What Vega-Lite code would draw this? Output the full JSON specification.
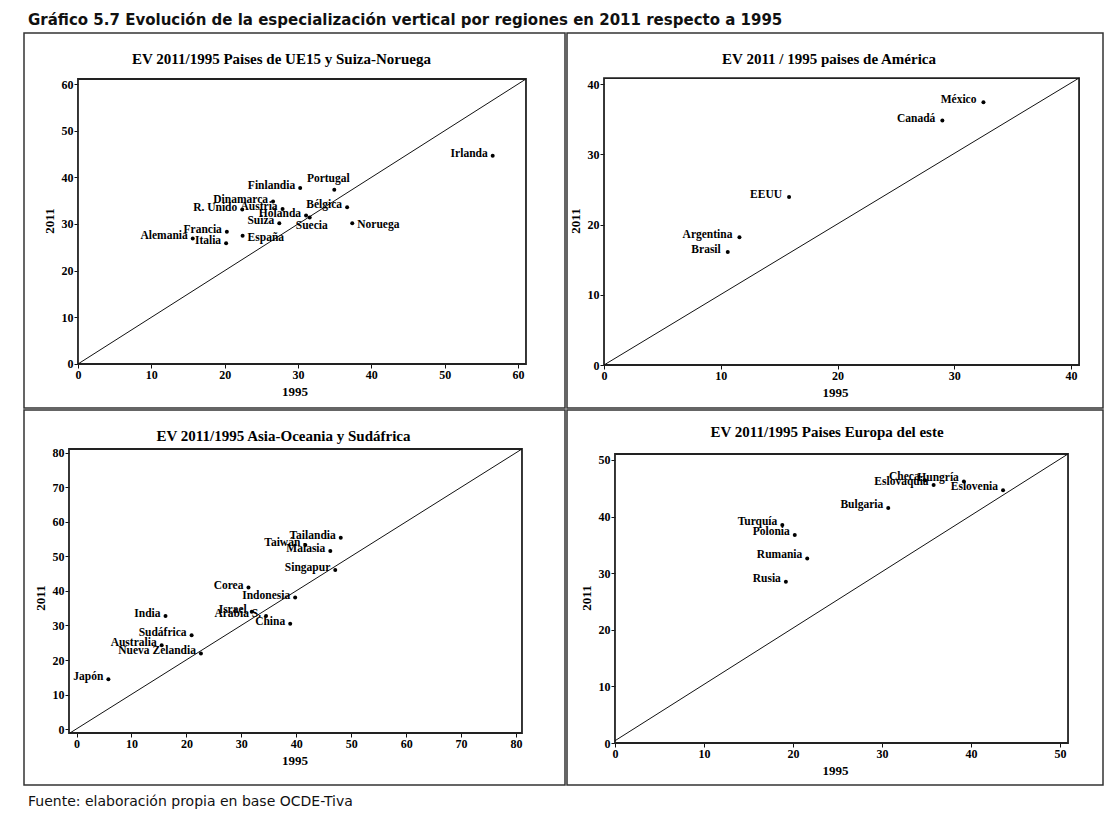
{
  "$schema": "https://vega.github.io/schema/vega-lite/v6.json",
  "background": "white",
  "padding": {"left": 23, "top": 13, "right": 6, "bottom": 0},
  "title": {"text": "Gráfico 5.7 Evolución de la especialización vertical por regiones en  2011 respecto a 1995", "anchor": "start", "frame": "group", "font": "DejaVu Sans", "fontSize": 15, "fontWeight": "bold", "color": "#111", "offset": 4, "dx": 4},
  "config": {
    "view": {"stroke": "#333", "strokeWidth": 1.5},
    "axis": {"domain": false, "grid": false, "ticks": true, "tickSize": 4, "tickColor": "#111", "labelFont": "Liberation Serif", "labelFontWeight": "bold", "labelFontSize": 12, "labelColor": "#000", "labelPadding": 1, "labelFlush": false, "labelOverlap": false, "titleFont": "Liberation Serif", "titleFontWeight": "bold", "titleFontSize": 13, "titleColor": "#000", "titlePadding": 5},
    "text": {"font": "Liberation Serif", "fontWeight": "bold", "fontSize": 11.5, "color": "#000", "baseline": "middle"},
    "circle": {"color": "#000", "opacity": 1, "size": 16}
  },
  "datasets": {
    "ue15": [
      {"pais": "Irlanda", "v1995": 56.55, "v2011": 44.6},
      {"pais": "Portugal", "v1995": 34.95, "v2011": 37.35},
      {"pais": "Finlandia", "v1995": 30.3, "v2011": 37.7},
      {"pais": "Dinamarca", "v1995": 26.6, "v2011": 34.8},
      {"pais": "Austria", "v1995": 27.9, "v2011": 33.2},
      {"pais": "R. Unido", "v1995": 22.4, "v2011": 33.1},
      {"pais": "Bélgica", "v1995": 36.7, "v2011": 33.6},
      {"pais": "Holanda", "v1995": 31.1, "v2011": 31.8},
      {"pais": "Suecia", "v1995": 31.6, "v2011": 31.4},
      {"pais": "Suiza", "v1995": 27.45, "v2011": 30.15},
      {"pais": "Noruega", "v1995": 37.4, "v2011": 30.15},
      {"pais": "Francia", "v1995": 20.3, "v2011": 28.35},
      {"pais": "España", "v1995": 22.45, "v2011": 27.5},
      {"pais": "Alemania", "v1995": 15.65, "v2011": 26.9},
      {"pais": "Italia", "v1995": 20.2, "v2011": 25.85}
    ],
    "america": [
      {"pais": "México", "v1995": 32.5, "v2011": 37.4},
      {"pais": "Canadá", "v1995": 28.98, "v2011": 34.8},
      {"pais": "EEUU", "v1995": 15.85, "v2011": 23.9},
      {"pais": "Argentina", "v1995": 11.6, "v2011": 18.2},
      {"pais": "Brasil", "v1995": 10.6, "v2011": 16.1}
    ],
    "asia": [
      {"pais": "Tailandia", "v1995": 48.1, "v2011": 55.4},
      {"pais": "Taiwán", "v1995": 41.65, "v2011": 53.3},
      {"pais": "Malasia", "v1995": 46.2, "v2011": 51.6},
      {"pais": "Singapur", "v1995": 47.1, "v2011": 46.1},
      {"pais": "Corea", "v1995": 31.3, "v2011": 41.0},
      {"pais": "Indonesia", "v1995": 39.8, "v2011": 38.1},
      {"pais": "Israel", "v1995": 31.9, "v2011": 34.0},
      {"pais": "Arabia S.", "v1995": 34.5, "v2011": 32.75},
      {"pais": "China", "v1995": 38.9, "v2011": 30.5},
      {"pais": "India", "v1995": 16.2, "v2011": 32.75},
      {"pais": "Sudáfrica", "v1995": 20.95, "v2011": 27.2},
      {"pais": "Australia", "v1995": 15.5, "v2011": 24.3},
      {"pais": "Nueva Zelandia", "v1995": 22.65, "v2011": 21.9},
      {"pais": "Japón", "v1995": 5.8, "v2011": 14.4}
    ],
    "este": [
      {"pais": "Checa", "v1995": 34.8, "v2011": 46.4},
      {"pais": "Hungría", "v1995": 39.2, "v2011": 46.2},
      {"pais": "Eslovaquia", "v1995": 35.8, "v2011": 45.6},
      {"pais": "Eslovenia", "v1995": 43.6, "v2011": 44.65},
      {"pais": "Bulgaria", "v1995": 30.7, "v2011": 41.5},
      {"pais": "Turquía", "v1995": 18.8, "v2011": 38.5},
      {"pais": "Polonia", "v1995": 20.2, "v2011": 36.75},
      {"pais": "Rumania", "v1995": 21.6, "v2011": 32.6},
      {"pais": "Rusia", "v1995": 19.2, "v2011": 28.5}
    ]
  },
  "spacing": 0,
  "vconcat": [
    {
      "spacing": 0,
      "hconcat": [
        {
          "width": 541, "height": 375,
          "title": {"text": "EV 2011/1995 Paises de UE15 y Suiza-Noruega", "offset": -34, "dx": -13, "anchor": "middle", "font": "Liberation Serif", "fontSize": 15, "fontWeight": "bold", "color": "#000"},
          "data": {"name": "ue15"},
          "layer": [
            {"data": {"values": [{}]}, "mark": {"type": "rect", "fill": null, "stroke": "#222", "strokeWidth": 1.8},
             "encoding": {
               "x": {"datum": 0, "type": "quantitative", "title": "1995", "scale": {"domain": [-7.36, 66.41], "nice": false, "zero": false}},
               "x2": {"datum": 61.09},
               "y": {"datum": 0, "type": "quantitative", "title": "2011", "scale": {"domain": [-9.43, 70.93], "nice": false, "zero": false}},
               "y2": {"datum": 61.07}}},
            {"data": {"values": [{}]}, "mark": {"type": "rule", "stroke": "#111", "strokeWidth": 1},
             "encoding": {
               "x": {"datum": 0, "type": "quantitative", "title": "1995", "scale": {"domain": [-7.36, 66.41], "nice": false, "zero": false}},
               "x2": {"datum": 61.09},
               "y": {"datum": 0, "type": "quantitative", "title": "2011", "scale": {"domain": [-9.43, 70.93], "nice": false, "zero": false}},
               "y2": {"datum": 61.07}}},
            {"mark": {"type": "circle"},
             "encoding": {
               "x": {"field": "v1995", "type": "quantitative", "title": "1995", "scale": {"domain": [-7.36, 66.41], "nice": false, "zero": false}, "axis": {"values": [0, 10, 20, 30, 40, 50, 60], "offset": -44}},
               "y": {"field": "v2011", "type": "quantitative", "title": "2011", "scale": {"domain": [-9.43, 70.93], "nice": false, "zero": false}, "axis": {"values": [0, 10, 20, 30, 40, 50, 60], "offset": -54}}}},
            {"transform": [{"filter": {"not": {"field": "pais", "oneOf": ["Portugal", "Suecia", "Noruega", "España"]}}}],
             "mark": {"type": "text", "align": "right", "dx": -5, "dy": -2},
             "encoding": {"x": {"field": "v1995", "type": "quantitative"}, "y": {"field": "v2011", "type": "quantitative"}, "text": {"field": "pais"}}},
            {"transform": [{"filter": {"field": "pais", "oneOf": ["Noruega", "España"]}}],
             "mark": {"type": "text", "align": "left", "dx": 5, "dy": 2},
             "encoding": {"x": {"field": "v1995", "type": "quantitative"}, "y": {"field": "v2011", "type": "quantitative"}, "text": {"field": "pais"}}},
            {"transform": [{"filter": {"field": "pais", "equal": "Portugal"}}],
             "mark": {"type": "text", "align": "center", "dx": -6, "dy": -11},
             "encoding": {"x": {"field": "v1995", "type": "quantitative"}, "y": {"field": "v2011", "type": "quantitative"}, "text": {"field": "pais"}}},
            {"transform": [{"filter": {"field": "pais", "equal": "Suecia"}}],
             "mark": {"type": "text", "align": "center", "dx": 2, "dy": 9},
             "encoding": {"x": {"field": "v1995", "type": "quantitative"}, "y": {"field": "v2011", "type": "quantitative"}, "text": {"field": "pais"}}}
          ]
        },
        {
          "width": 536, "height": 375,
          "title": {"text": "EV 2011 / 1995 paises de América", "offset": -34, "dx": -6, "anchor": "middle", "font": "Liberation Serif", "fontSize": 15, "fontWeight": "bold", "color": "#000"},
          "data": {"name": "america"},
          "layer": [
            {"data": {"values": [{}]}, "mark": {"type": "rect", "fill": null, "stroke": "#222", "strokeWidth": 1.8},
             "encoding": {
               "x": {"datum": 0, "type": "quantitative", "title": "1995", "scale": {"domain": [-3.17, 42.74], "nice": false, "zero": false}},
               "x2": {"datum": 40.69},
               "y": {"datum": 0, "type": "quantitative", "title": "2011", "scale": {"domain": [-6.12, 47.26], "nice": false, "zero": false}},
               "y2": {"datum": 40.85}}},
            {"data": {"values": [{}]}, "mark": {"type": "rule", "stroke": "#111", "strokeWidth": 1},
             "encoding": {
               "x": {"datum": 0, "type": "quantitative", "title": "1995", "scale": {"domain": [-3.17, 42.74], "nice": false, "zero": false}},
               "x2": {"datum": 40.69},
               "y": {"datum": 0, "type": "quantitative", "title": "2011", "scale": {"domain": [-6.12, 47.26], "nice": false, "zero": false}},
               "y2": {"datum": 40.85}}},
            {"mark": {"type": "circle"},
             "encoding": {
               "x": {"field": "v1995", "type": "quantitative", "title": "1995", "scale": {"domain": [-3.17, 42.74], "nice": false, "zero": false}, "axis": {"values": [0, 10, 20, 30, 40], "offset": -43}},
               "y": {"field": "v2011", "type": "quantitative", "title": "2011", "scale": {"domain": [-6.12, 47.26], "nice": false, "zero": false}, "axis": {"values": [0, 10, 20, 30, 40], "offset": -37}}}},
            {"mark": {"type": "text", "align": "right", "dx": -7, "dy": -2},
             "encoding": {"x": {"field": "v1995", "type": "quantitative"}, "y": {"field": "v2011", "type": "quantitative"}, "text": {"field": "pais"}}}
          ]
        }
      ]
    },
    {
      "spacing": 0,
      "title": {"text": "Fuente: elaboración propia en base OCDE-Tiva", "orient": "bottom", "anchor": "start", "frame": "group", "font": "DejaVu Sans", "fontSize": 14, "fontWeight": "normal", "color": "#111", "offset": 9, "dx": 4},
      "hconcat": [
        {
          "width": 541, "height": 375,
          "title": {"text": "EV 2011/1995 Asia-Oceania y Sudáfrica", "offset": -34, "dx": -11, "anchor": "middle", "font": "Liberation Serif", "fontSize": 15, "fontWeight": "bold", "color": "#000"},
          "data": {"name": "asia"},
          "layer": [
            {"data": {"values": [{}]}, "mark": {"type": "rect", "fill": null, "stroke": "#222", "strokeWidth": 1.8},
             "encoding": {
               "x": {"datum": -1.37, "type": "quantitative", "title": "1995", "scale": {"domain": [-9.56, 88.92], "nice": false, "zero": false}},
               "x2": {"datum": 81.09},
               "y": {"datum": -1.16, "type": "quantitative", "title": "2011", "scale": {"domain": [-16.23, 92.46], "nice": false, "zero": false}},
               "y2": {"datum": 81.16}}},
            {"data": {"values": [{}]}, "mark": {"type": "rule", "stroke": "#111", "strokeWidth": 1},
             "encoding": {
               "x": {"datum": -1.2, "type": "quantitative", "title": "1995", "scale": {"domain": [-9.56, 88.92], "nice": false, "zero": false}},
               "x2": {"datum": 81.09},
               "y": {"datum": -1.16, "type": "quantitative", "title": "2011", "scale": {"domain": [-16.23, 92.46], "nice": false, "zero": false}},
               "y2": {"datum": 81.16}}},
            {"mark": {"type": "circle"},
             "encoding": {
               "x": {"field": "v1995", "type": "quantitative", "title": "1995", "scale": {"domain": [-9.56, 88.92], "nice": false, "zero": false}, "axis": {"values": [0, 10, 20, 30, 40, 50, 60, 70, 80], "offset": -52}},
               "y": {"field": "v2011", "type": "quantitative", "title": "2011", "scale": {"domain": [-16.23, 92.46], "nice": false, "zero": false}, "axis": {"values": [0, 10, 20, 30, 40, 50, 60, 70, 80], "offset": -45}}}},
            {"mark": {"type": "text", "align": "right", "dx": -5, "dy": -2},
             "encoding": {"x": {"field": "v1995", "type": "quantitative"}, "y": {"field": "v2011", "type": "quantitative"}, "text": {"field": "pais"}}}
          ]
        },
        {
          "width": 536, "height": 375,
          "title": {"text": "EV 2011/1995 Paises Europa del este", "offset": -30, "dx": -8, "anchor": "middle", "font": "Liberation Serif", "fontSize": 15, "fontWeight": "bold", "color": "#000"},
          "data": {"name": "este"},
          "layer": [
            {"data": {"values": [{}]}, "mark": {"type": "rect", "fill": null, "stroke": "#222", "strokeWidth": 1.8},
             "encoding": {
               "x": {"datum": 0, "type": "quantitative", "title": "1995", "scale": {"domain": [-5.39, 54.83], "nice": false, "zero": false}},
               "x2": {"datum": 50.9},
               "y": {"datum": 0, "type": "quantitative", "title": "2011", "scale": {"domain": [-7.42, 58.83], "nice": false, "zero": false}},
               "y2": {"datum": 51.06}}},
            {"data": {"values": [{}]}, "mark": {"type": "rule", "stroke": "#111", "strokeWidth": 1},
             "encoding": {
               "x": {"datum": 0, "type": "quantitative", "title": "1995", "scale": {"domain": [-5.39, 54.83], "nice": false, "zero": false}},
               "x2": {"datum": 50.9},
               "y": {"datum": 0.4, "type": "quantitative", "title": "2011", "scale": {"domain": [-7.42, 58.83], "nice": false, "zero": false}},
               "y2": {"datum": 51.06}}},
            {"mark": {"type": "circle"},
             "encoding": {
               "x": {"field": "v1995", "type": "quantitative", "title": "1995", "scale": {"domain": [-5.39, 54.83], "nice": false, "zero": false}, "axis": {"values": [0, 10, 20, 30, 40, 50], "offset": -42}},
               "y": {"field": "v2011", "type": "quantitative", "title": "2011", "scale": {"domain": [-7.42, 58.83], "nice": false, "zero": false}, "axis": {"values": [0, 10, 20, 30, 40, 50], "offset": -48}}}},
            {"mark": {"type": "text", "align": "right", "dx": -5, "dy": -3},
             "encoding": {"x": {"field": "v1995", "type": "quantitative"}, "y": {"field": "v2011", "type": "quantitative"}, "text": {"field": "pais"}}}
          ]
        }
      ]
    }
  ]
}
